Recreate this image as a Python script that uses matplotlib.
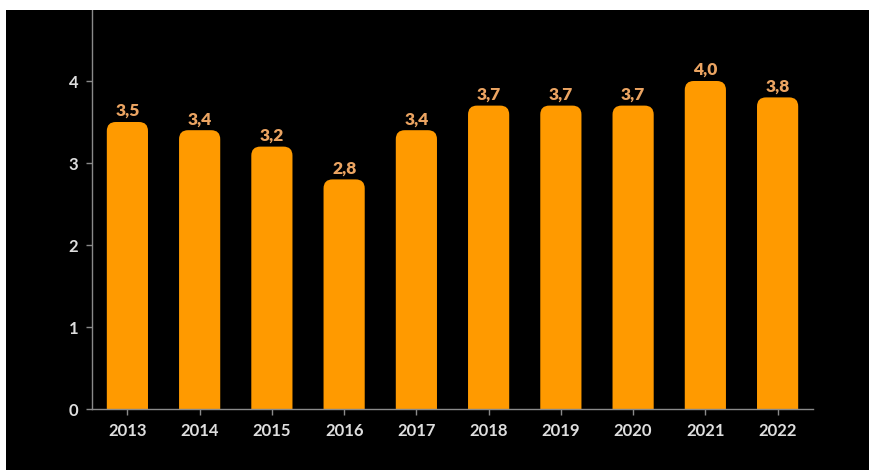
import matplotlib
matplotlib.use("Agg")
import matplotlib.pyplot as plt
from matplotlib.patches import FancyBboxPatch, Rectangle

years = ["2013", "2014", "2015", "2016", "2017", "2018", "2019", "2020", "2021", "2022"]
values = [3.5, 3.4, 3.2, 2.8, 3.4, 3.7, 3.7, 3.7, 4.0, 3.8]
value_labels = ["3,5", "3,4", "3,2", "2,8", "3,4", "3,7", "3,7", "3,7", "4,0", "3,8"]
yticks = [0, 1, 2, 3, 4]

W, H = 869, 470
fig = plt.figure(figsize=(W / 100, H / 100), dpi=100, facecolor="black")
# white margins top and left
fig.patches.append(Rectangle((0, 1 - 10 / H), 1, 10 / H, transform=fig.transFigure,
                             facecolor="white", edgecolor="none", zorder=0))
fig.patches.append(Rectangle((0, 0), 6 / W, 1, transform=fig.transFigure,
                             facecolor="white", edgecolor="none", zorder=0))

left, right, bottom, top = 92, 813, 409, 10
ax = fig.add_axes([left / W, 1 - bottom / H, (right - left) / W, (bottom - top) / H])
ax.set_facecolor("black")
ax.set_xlim(-0.49, len(years) - 0.51)
ax.set_ylim(0, (bottom - top) / 82.0)

bar_color = "#FF9A00"
label_color = "#EBA462"
width = 0.57
px_x = (right - left) / (len(years) - 0.02)
px_y = 82.0
r_px = 9
rx = r_px / px_x
aspect = (r_px / px_y) / rx

for i, v in enumerate(values):
    patch = FancyBboxPatch((i - width / 2, -0.3), width, v + 0.3,
                           boxstyle=f"round,pad=0,rounding_size={rx}",
                           mutation_aspect=aspect,
                           facecolor=bar_color, edgecolor="none", zorder=2)
    patch.set_clip_path(ax.patch)
    ax.add_patch(patch)
    ax.text(i, v + 0.035, value_labels[i], ha="center", va="bottom",
            color=label_color, fontsize=12.5, fontweight="heavy", family="Lato", zorder=3)

ax.set_xticks(range(len(years)))
ax.set_xticklabels(years)
ax.set_yticks(yticks)
ax.set_yticklabels([str(t) for t in yticks])

for s in ["top", "right"]:
    ax.spines[s].set_visible(False)
for s in ["left", "bottom"]:
    ax.spines[s].set_color("#8a8a8a")
    ax.spines[s].set_linewidth(1.0)

ax.tick_params(axis="both", colors="#8a8a8a", length=4, width=1)
ax.tick_params(axis="x", pad=6)
ax.tick_params(axis="y", pad=6)
for lab in ax.get_xticklabels() + ax.get_yticklabels():
    lab.set_color("#DEDEDE")
    lab.set_fontsize(12)
    lab.set_fontweight("bold")
    lab.set_family("Lato")

fig.savefig("out.png", dpi=100, facecolor=fig.get_facecolor())
